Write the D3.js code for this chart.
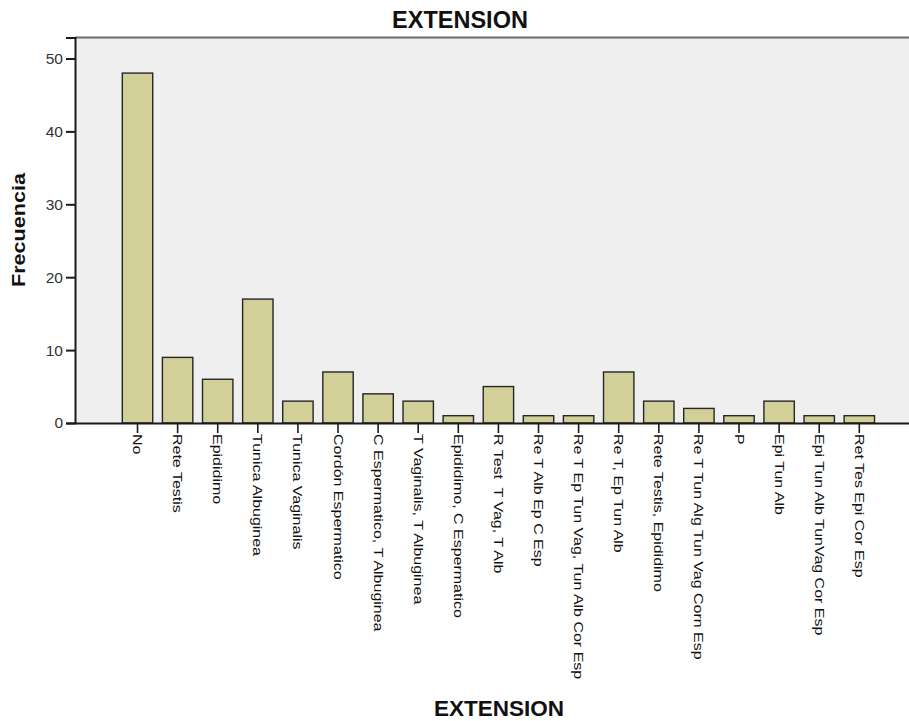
<!DOCTYPE html>
<html>
<head>
<meta charset="utf-8">
<script src="https://cdn.jsdelivr.net/npm/d3@7"></script>
<style>
  html, body { margin: 0; padding: 0; background: #fff; overflow: hidden; }
  svg { display: block; }
  text { font-family: "Liberation Sans", Arial, sans-serif; white-space: pre; }
</style>
</head>
<body>
<svg id="chart" width="909" height="721"></svg>
<script>
const categories = [
  "No", "Rete Testis", "Epididimo", "Tunica Albuginea", "Tunica Vaginalis",
  "Cordón Espermatico", "C Espermatico, T Albuginea", "T Vaginalis, T Albuginea",
  "Epididimo, C Espermatico", "R Test  T Vag, T Alb", "Re T Alb Ep C Esp",
  "Re T Ep Tun Vag, Tun Alb Cor Esp", "Re T, Ep Tun Alb", "Rete Testis, Epididimo",
  "Re T Tun Alg Tun Vag Corn Esp", "P", "Epi Tun Alb", "Epi Tun Alb TunVag Cor Esp",
  "Ret Tes Epi Cor Esp"
];
const frecuencia = [48, 9, 6, 17, 3, 7, 4, 3, 1, 5, 1, 1, 7, 3, 2, 1, 3, 1, 1];
const yTicks = [0, 10, 20, 30, 40, 50];
const chartTitle = "EXTENSION";
const xTitle = "EXTENSION";
const yTitle = "Frecuencia";

(function () {
const svg = d3.select("#chart");
const pLeft = 75, pTop = 37.5, pBottom = 423;
const step = 40.1;
const pIn = 0.242, pOut = 1.18;
const pRight = pLeft + step * (categories.length - pIn + 2 * pOut);

const x = d3.scaleBand().domain(categories).range([pLeft, pRight])
  .paddingInner(pIn).paddingOuter(pOut);
const y = d3.scaleLinear().domain([0, 52.88]).range([pBottom, pTop]);

// plot background
svg.append("rect").attr("x", pLeft).attr("y", pTop)
  .attr("width", pRight - pLeft).attr("height", pBottom - pTop)
  .attr("fill", "#efefef");
// top border
svg.append("line").attr("x1", pLeft).attr("x2", pRight)
  .attr("y1", pTop).attr("y2", pTop)
  .attr("stroke", "#6b6b6b").attr("stroke-width", 2);

// bars
svg.append("g").selectAll("rect").data(categories).join("rect")
  .attr("x", d => x(d))
  .attr("y", (d, i) => y(frecuencia[i]))
  .attr("width", x.bandwidth())
  .attr("height", (d, i) => y(0) - y(frecuencia[i]))
  .attr("fill", "#d3cf98")
  .attr("stroke", "#262626")
  .attr("stroke-width", 1.4);

// y axis
const yAxis = d3.axisLeft(y).tickValues(yTicks).tickSize(9).tickPadding(3);
const gy = svg.append("g").attr("transform", `translate(${pLeft},0)`).call(yAxis);
gy.select(".domain").attr("stroke", "#1a1a1a").attr("stroke-width", 2);
gy.selectAll(".tick line").attr("stroke", "#1a1a1a").attr("stroke-width", 2);
gy.selectAll(".tick text")
  .attr("fill", "#333")
  .attr("font-size", 15.5)
  .attr("font-family", "'Liberation Sans', Arial, sans-serif");

// x axis
const xAxis = d3.axisBottom(x).tickSize(10).tickSizeOuter(0);
const gx = svg.append("g").attr("transform", `translate(0,${pBottom})`).call(xAxis);
gx.select(".domain").attr("stroke", "#1a1a1a").attr("stroke-width", 2);
gx.selectAll(".tick line").attr("stroke", "#1a1a1a").attr("stroke-width", 1.6);
gx.selectAll(".tick text")
  .attr("fill", "#111")
  .attr("font-size", 13)
  .attr("font-family", "'Liberation Sans', Arial, sans-serif")
  .attr("text-anchor", "start")
  .attr("dy", null)
  .attr("y", null)
  .attr("dominant-baseline", "middle")
  .attr("transform", "translate(-1,11) rotate(90) scale(1.23,1)");

// titles
svg.append("text").attr("x", 460).attr("y", 28)
  .attr("text-anchor", "middle").attr("font-weight", "bold")
  .attr("font-size", 23.5).attr("fill", "#111").text(chartTitle);
svg.append("text").attr("x", 499).attr("y", 716)
  .attr("text-anchor", "middle").attr("font-weight", "bold")
  .attr("font-size", 22.5).attr("fill", "#111").text(xTitle);
svg.append("text")
  .attr("transform", "translate(25,230) rotate(-90) scale(1.2,1)")
  .attr("text-anchor", "middle").attr("font-weight", "bold")
  .attr("font-size", 18).attr("fill", "#111").text(yTitle);
})();
</script>
</body>
</html>
